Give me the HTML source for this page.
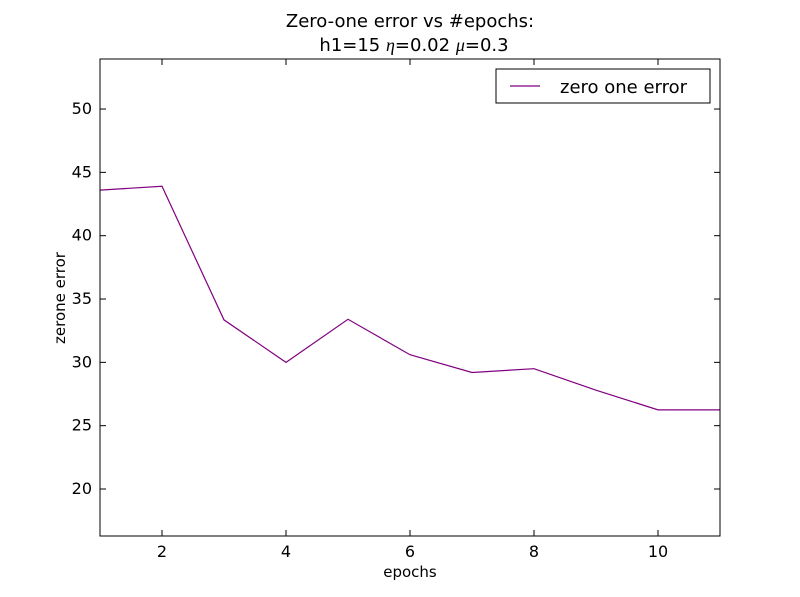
<!DOCTYPE html>
<html><head><meta charset="utf-8"><style>
html,body{margin:0;padding:0;background:#fff;}
svg{display:block;font-family:"DejaVu Sans","Liberation Sans",sans-serif;}
</style></head><body>
<svg id="chart" width="800" height="597" viewBox="0 0 800 597">
<rect x="0" y="0" width="800" height="597" fill="#fff"/>
<text x="410" y="27" text-anchor="middle" font-size="18">Zero-one error vs #epochs:</text>
<text x="414" y="51" text-anchor="middle" font-size="18">h1=15 <tspan font-style="italic" font-family="Liberation Serif,serif">η</tspan>=0.02 <tspan font-style="italic" font-family="Liberation Serif,serif">μ</tspan>=0.3</text>
<g id="ticks"></g>
<polyline id="line" fill="none" stroke="#800080" stroke-width="1.2"/>
<rect x="100" y="59" width="620" height="477" fill="none" stroke="#000" stroke-width="1"/>
<text x="410" y="577" text-anchor="middle" font-size="15">epochs</text>
<text transform="translate(65,298) rotate(-90)" text-anchor="middle" font-size="15">zerone error</text>
<g>
<rect x="496" y="69" width="214" height="34" fill="#fff" stroke="#000"/>
<line x1="510" y1="86" x2="540" y2="86" stroke="#800080" stroke-width="1.2"/>
<text x="560" y="93" font-size="18">zero one error</text>
</g>
</svg>
<script>
const epochs=[1,2,3,4,5,6,7,8,9,10,11];
const errors=[43.6,43.9,33.35,30.0,33.4,30.6,29.2,29.5,27.8,26.25,26.25];
const xTicks=[2,4,6,8,10];
const yTicks=[20,25,30,35,40,45,50];
const L=100,R=720,T=59,B=536,xMin=1,xMax=11,yMin=16.29,yMax=53.95;
const sx=v=>L+(v-xMin)/(xMax-xMin)*(R-L);
const sy=v=>B-(v-yMin)/(yMax-yMin)*(B-T);
const NS="http://www.w3.org/2000/svg";
const g=document.getElementById('ticks');
function mk(tag,a){const e=document.createElementNS(NS,tag);for(const k in a)e.setAttribute(k,a[k]);g.appendChild(e);return e;}
xTicks.forEach(v=>{const x=sx(v);
const t1=mk('line',{x1:x,y1:B,x2:x,y2:B-6,stroke:'#000'});


const t2=mk('line',{x1:x,y1:T,x2:x,y2:T+6,stroke:'#000'});


const l=mk('text',{x:x,y:B+21,'text-anchor':'middle','font-size':16});l.textContent=v;


});
yTicks.forEach(v=>{const y=sy(v);
const t1=mk('line',{x1:L,y1:y,x2:L+6,y2:y,stroke:'#000'});


const t2=mk('line',{x1:R,y1:y,x2:R-6,y2:y,stroke:'#000'});


const l=mk('text',{x:L-8,y:y+5,'text-anchor':'end','font-size':16});l.textContent=v;


});
document.getElementById('line').setAttribute('points',epochs.map((e,i)=>sx(e)+','+sy(errors[i])).join(' '));
</script>
</body></html>
